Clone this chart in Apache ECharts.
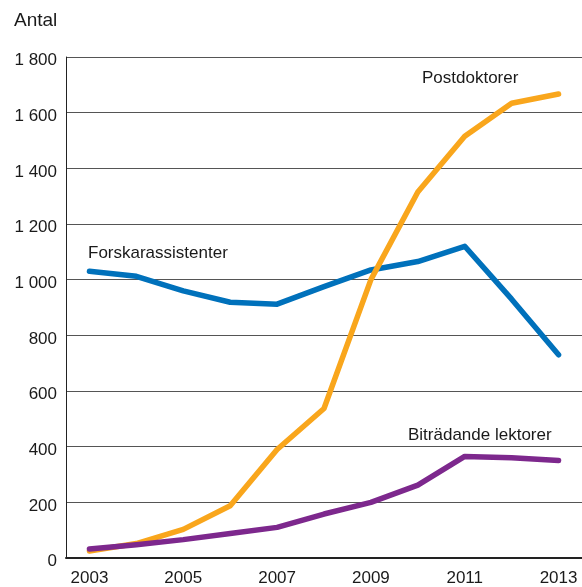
<!doctype html>
<html>
<head>
  <meta charset="utf-8">
  <title>Antal</title>
  <script src="https://cdn.jsdelivr.net/npm/echarts@6/dist/echarts.min.js"></script>
  <style>
    html, body { margin: 0; padding: 0; background: #fff; }
  </style>
</head>
<body>
  <div id="main" style="width:582px;height:587px;"></div>
  <script>
  var years = ['2003', '2004', '2005', '2006', '2007', '2008', '2009', '2010', '2011', '2012', '2013'];
  var forskarassistenter = [1030, 1012, 960, 919, 912, 975, 1035, 1065, 1120, 930, 730];
  var postdoktorer = [25, 52, 103, 188, 390, 537, 1000, 1315, 1515, 1634, 1667];
  var bitradandeLektorer = [32, 48, 66, 88, 110, 158, 200, 262, 365, 360, 350];

  var font = '"Liberation Sans", Arial, sans-serif';
  var textColor = '#1a1a1a';

  function label(text, x, y, size) {
    return {
      type: 'text',
      x: x,
      y: y,
      style: {
        text: text,
        fill: textColor,
        font: size + 'px ' + font,
        verticalAlign: 'middle'
      }
    };
  }

  function line(name, data, color) {
    return {
      name: name,
      type: 'line',
      data: data,
      symbol: 'none',
      lineStyle: { color: color, width: 5.5, cap: 'round', join: 'round' },
      itemStyle: { color: color }
    };
  }

  var option = {
    animation: false,
    grid: { left: 66, right: 0, top: 57, bottom: 27 },
    xAxis: {
      type: 'category',
      data: years,
      boundaryGap: true,
      axisLine: { lineStyle: { color: '#222', width: 2 } },
      axisTick: {
        alignWithLabel: true,
        interval: 0,
        inside: true,
        length: 12,
        lineStyle: { color: '#222', width: 1 }
      },
      axisLabel: {
        interval: 1,
        margin: 12,
        color: textColor,
        fontSize: 17,
        fontFamily: font
      }
    },
    yAxis: {
      type: 'value',
      min: 0,
      max: 1800,
      interval: 200,
      axisLine: { show: true, lineStyle: { color: '#222', width: 1 } },
      axisTick: { show: false },
      splitLine: { lineStyle: { color: '#555', width: 1 } },
      axisLabel: {
        margin: 9,
        verticalAlign: 'top',
        lineHeight: 7,
        color: textColor,
        fontSize: 17,
        fontFamily: font,
        formatter: function (v) {
          return String(v).replace(/\B(?=(\d{3})+(?!\d))/g, ' ');
        }
      }
    },
    graphic: [
      label('Antal', 14, 21, 19),
      label('Postdoktorer', 422, 78, 17),
      label('Forskarassistenter', 88, 253, 17),
      label('Biträdande lektorer', 408, 435, 17)
    ],
    series: [
      line('Forskarassistenter', forskarassistenter, '#0071bb'),
      line('Postdoktorer', postdoktorer, '#f9a61c'),
      line('Biträdande lektorer', bitradandeLektorer, '#7d288d')
    ]
  };

  var myChart = echarts.init(document.getElementById('main'));
  myChart.setOption(option);
  </script>
</body>
</html>
